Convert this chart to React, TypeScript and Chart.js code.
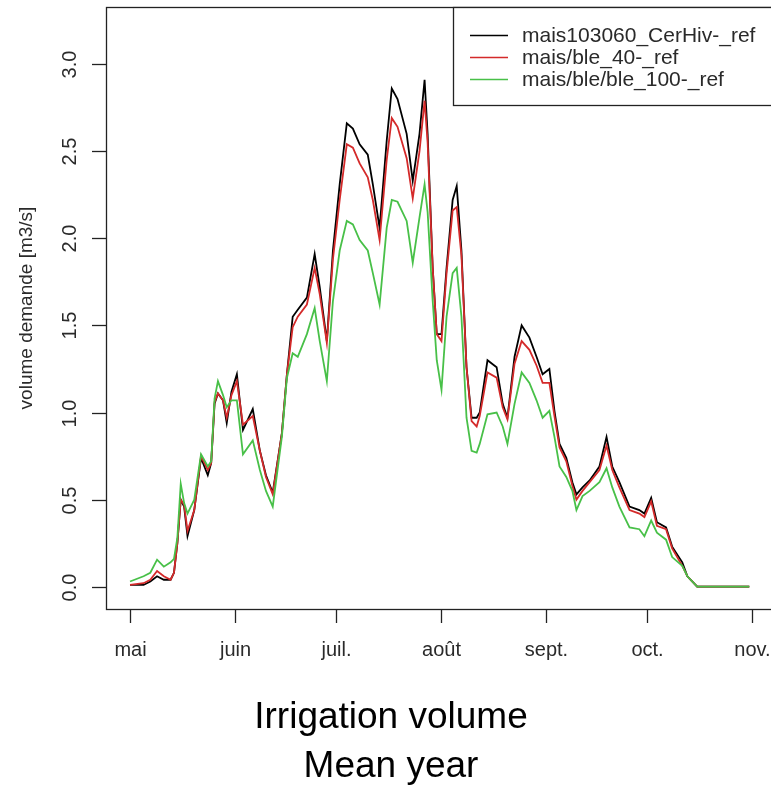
import React, { useEffect, useRef } from "react";
import { Chart, registerables } from "chart.js";

Chart.register(...registerables);

// Days counted from 1 May
const days = [
  0, 4, 6, 8, 10, 12, 13, 14, 15, 16, 17, 19, 21, 23, 24, 25, 26, 27.5, 28.6, 30,
  31.6, 33.4, 36.3, 38.4, 40.2, 42.2, 44.9, 46.4, 48.1, 49.6, 52.3, 54.6, 56.1, 58.2, 60,
  62, 64.1, 65.9, 67.9, 70.3, 71.8, 73.8, 75.9, 77.4, 79.1, 81.8, 83.6, 85.6, 87.1, 88,
  89.5, 90.7, 92.1, 93.6, 95.4, 96.6, 98, 99.5, 101, 102.5, 103.4, 105.7, 108.4, 110.2, 111.6,
  113.7, 115.8, 118.1, 120.2, 122, 124, 125.5, 127, 129, 130.8, 132, 133.8, 135.9, 138.8, 140.9,
  142.6, 144.7, 147.7, 150.6, 152.1, 154.1, 155.8, 158.5, 160.3, 163.3, 164.8, 167.7, 183.1,
];

const maisCerHiv = [
  0.01, 0.01, 0.03, 0.06, 0.04, 0.04, 0.08, 0.25, 0.5, 0.46, 0.29, 0.44, 0.74, 0.64, 0.71, 1.05, 1.11, 1.07, 0.94, 1.12,
  1.22, 0.9, 1.02, 0.78, 0.64, 0.54, 0.88, 1.22, 1.55, 1.59, 1.66, 1.91, 1.72, 1.41, 1.93,
  2.31, 2.66, 2.63, 2.54, 2.48, 2.31, 2.06, 2.56, 2.86, 2.8, 2.6, 2.33, 2.6, 2.91, 2.6,
  1.83, 1.45, 1.45, 1.83, 2.22, 2.3, 1.93, 1.26, 0.97, 0.97, 1.0, 1.3, 1.26, 1.05, 0.97,
  1.32, 1.5, 1.43, 1.32, 1.22, 1.25, 1.01, 0.82, 0.74, 0.6, 0.53, 0.57, 0.61, 0.69, 0.86,
  0.69, 0.6, 0.46, 0.44, 0.42, 0.51, 0.37, 0.34, 0.23, 0.14, 0.06, 0, 0,
];

const maisBle40 = [
  0.01, 0.02, 0.04, 0.09, 0.06, 0.04, 0.08, 0.25, 0.5, 0.47, 0.32, 0.44, 0.75, 0.67, 0.71, 1.06, 1.11, 1.07, 0.97, 1.1,
  1.18, 0.93, 0.98, 0.78, 0.63, 0.53, 0.88, 1.22, 1.49, 1.55, 1.62, 1.83, 1.68, 1.4, 1.88,
  2.22, 2.54, 2.52, 2.43, 2.35, 2.22, 1.99, 2.45, 2.69, 2.64, 2.46, 2.23, 2.5, 2.79, 2.55,
  1.83, 1.45, 1.41, 1.8, 2.16, 2.18, 1.9, 1.26, 0.95, 0.92, 0.98, 1.23, 1.2, 1.03, 0.96,
  1.28, 1.41, 1.36, 1.27, 1.17, 1.17, 0.98, 0.8, 0.72, 0.58, 0.5, 0.55, 0.6, 0.67, 0.81,
  0.67, 0.57, 0.44, 0.42, 0.4, 0.49, 0.35, 0.33, 0.22, 0.12, 0.06, 0, 0,
];

const maisBleBle100 = [
  0.03, 0.06, 0.08, 0.155, 0.115, 0.14, 0.16, 0.28, 0.59, 0.48, 0.42, 0.5, 0.76, 0.69, 0.72, 1.08, 1.18, 1.1, 1.03, 1.07,
  1.07, 0.76, 0.84, 0.67, 0.55, 0.46, 0.86, 1.2, 1.34, 1.32, 1.45, 1.6, 1.41, 1.18, 1.64,
  1.93, 2.1, 2.08, 1.99, 1.93, 1.8, 1.62, 2.06, 2.22, 2.21, 2.1, 1.86, 2.12, 2.31, 2.15,
  1.64, 1.3, 1.13, 1.55, 1.8, 1.83, 1.55, 0.97, 0.78, 0.77, 0.82, 0.99, 1.0, 0.92, 0.82,
  1.05, 1.23, 1.17, 1.07, 0.97, 1.01, 0.86, 0.69, 0.63, 0.55, 0.44, 0.52, 0.55, 0.6, 0.68,
  0.57, 0.46, 0.34, 0.33, 0.29, 0.38, 0.31, 0.27, 0.17, 0.12, 0.06, 0, 0,
];

const monthTicks = [0, 31, 61, 92, 123, 153, 184];
const monthLabels = ["mai", "juin", "juil.", "août", "sept.", "oct.", "nov."];
const yTicks = [0, 0.5, 1, 1.5, 2, 2.5, 3];
const yTickLabels = ["0.0", "0.5", "1.0", "1.5", "2.0", "2.5", "3.0"];
const seriesNames = ["mais103060_CerHiv-_ref", "mais/ble_40-_ref", "mais/ble/ble_100-_ref"];
const seriesColors = ["#000000", "#d42a2a", "#48c048"];
const yTitle = "volume demande [m3/s]";
const titleLines = ["Irrigation volume", "Mean year"];

const FONT = '"Liberation Sans", Arial, sans-serif';

const axesPlugin = {
  id: "rAxes",
  afterDraw(chart: any) {
    const ctx = chart.ctx as CanvasRenderingContext2D;
    const area = chart.chartArea;
    const xs = chart.scales.x;
    const ys = chart.scales.y;
    ctx.save();
    // plot box
    ctx.strokeStyle = "#222";
    ctx.lineWidth = 1.3;
    ctx.strokeRect(Math.round(area.left) + 0.5, Math.round(area.top) + 0.5, area.right - area.left, area.bottom - area.top);

    // y ticks
    ctx.fillStyle = "#2a2a2a";
    ctx.font = `20px ${FONT}`;
    yTicks.forEach((v, i) => {
      const py = Math.round(ys.getPixelForValue(v)) + 0.5;
      ctx.beginPath();
      ctx.moveTo(area.left - 14, py);
      ctx.lineTo(area.left, py);
      ctx.stroke();
      ctx.save();
      ctx.translate(area.left - 30, py);
      ctx.rotate(-Math.PI / 2);
      ctx.textAlign = "center";
      ctx.textBaseline = "alphabetic";
      ctx.fillText(yTickLabels[i], 0, 0);
      ctx.restore();
    });

    // y title
    ctx.save();
    ctx.font = `19px ${FONT}`;
    ctx.translate(32, (area.top + area.bottom) / 2);
    ctx.rotate(-Math.PI / 2);
    ctx.textAlign = "center";
    ctx.textBaseline = "alphabetic";
    ctx.fillText(yTitle, 0, 0);
    ctx.restore();

    // x ticks
    ctx.font = `20px ${FONT}`;
    ctx.textAlign = "center";
    ctx.textBaseline = "alphabetic";
    monthTicks.forEach((d, i) => {
      const px = Math.round(xs.getPixelForValue(d)) + 0.5;
      ctx.beginPath();
      ctx.moveTo(px, area.bottom);
      ctx.lineTo(px, area.bottom + 14);
      ctx.stroke();
      ctx.fillText(monthLabels[i], px, area.bottom + 47);
    });

    // legend
    const lx = 453;
    const ly = area.top;
    const lh = 98;
    ctx.fillStyle = "#fff";
    ctx.fillRect(lx, ly, area.right - lx, lh);
    ctx.strokeStyle = "#222";
    ctx.lineWidth = 1.3;
    ctx.strokeRect(lx + 0.5, Math.round(ly) + 0.5, area.right - lx, lh);
    ctx.font = `21px ${FONT}`;
    ctx.textAlign = "left";
    ctx.textBaseline = "middle";
    seriesNames.forEach((name, i) => {
      const yy = ly + 28.5 + i * 22;
      ctx.strokeStyle = seriesColors[i];
      ctx.lineWidth = 1.6;
      ctx.beginPath();
      ctx.moveTo(470, yy);
      ctx.lineTo(508, yy);
      ctx.stroke();
      ctx.fillStyle = "#2a2a2a";
      ctx.fillText(name, 522, yy + 1);
    });

    // title
    ctx.fillStyle = "#000";
    ctx.font = `37px ${FONT}`;
    ctx.textAlign = "center";
    ctx.textBaseline = "alphabetic";
    ctx.fillText(titleLines[0], 391, 728);
    ctx.fillText(titleLines[1], 391, 777);
    ctx.restore();
  },
};

export default function App() {
  const ref = useRef<HTMLCanvasElement | null>(null);
  useEffect(() => {
    if (!ref.current) return;
    const mk = (data: number[]) => days.map((d, i) => ({ x: d, y: data[i] }));
    const series = [maisCerHiv, maisBle40, maisBleBle100];
    const chart = new Chart(ref.current, {
      type: "line",
      data: {
        datasets: series.map((s, i) => ({
          label: seriesNames[i],
          data: mk(s),
          borderColor: seriesColors[i],
          borderWidth: 1.8,
          pointRadius: 0,
          tension: 0,
          fill: false,
          order: 3 - i,
        })),
      },
      options: {
        responsive: false,
        animation: false,
        devicePixelRatio: 1,
        layout: { padding: { left: 106, top: 7, right: 22, bottom: 177 } },
        plugins: { legend: { display: false }, title: { display: false }, tooltip: { enabled: false } },
        scales: {
          x: { type: "linear", min: -7.1, max: 191.6, display: false },
          y: { type: "linear", min: -0.128, max: 3.328, display: false },
        },
      },
      plugins: [axesPlugin],
    });
    return () => chart.destroy();
  }, []);
  return (
    <div style={{ position: "fixed", left: 0, top: 0, width: 771, height: 786, overflow: "hidden", background: "#fff" }}>
      <canvas ref={ref} width={800} height={786} style={{ display: "block" }} />
    </div>
  );
}
